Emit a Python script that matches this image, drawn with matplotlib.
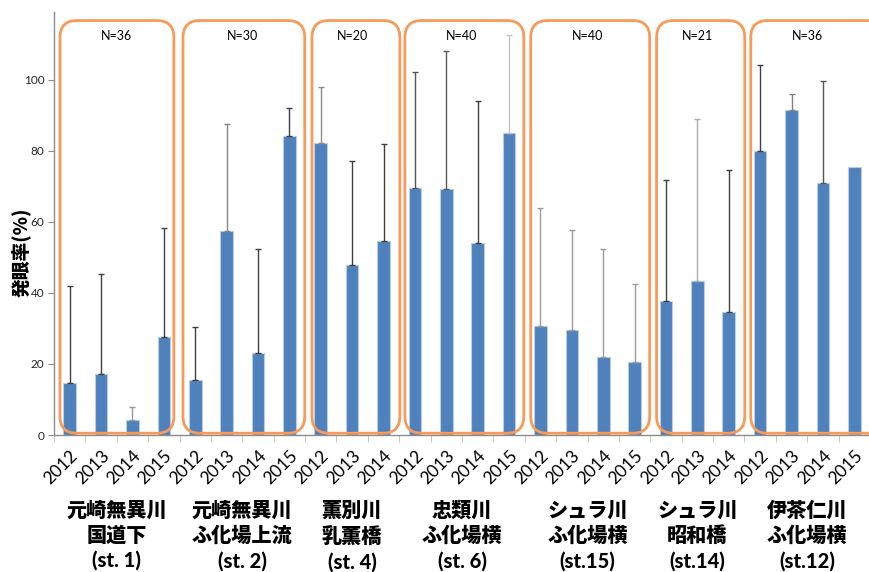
import numpy as np
import matplotlib
matplotlib.use("Agg")
import matplotlib.pyplot as plt
from matplotlib.patches import FancyBboxPatch

# ---- data -------------------------------------------------------------
stations = [
    "元崎無異川\n国道下\n(st. 1)",
    "元崎無異川\nふ化場上流\n(st. 2)",
    "薫別川\n乳薫橋\n(st. 4)",
    "忠類川\nふ化場横\n(st. 6)",
    "シュラ川\nふ化場横\n(st.15)",
    "シュラ川\n昭和橋\n(st.14)",
    "伊茶仁川\nふ化場横\n(st.12)",
]
sample_sizes = [36, 30, 20, 40, 40, 21, 36]
years = [
    ["2012", "2013", "2014", "2015"],
    ["2012", "2013", "2014", "2015"],
    ["2012", "2013", "2014"],
    ["2012", "2013", "2014", "2015"],
    ["2012", "2013", "2014", "2015"],
    ["2012", "2013", "2014"],
    ["2012", "2013", "2014", "2015"],
]
eyed_rate = [
    [14.7, 17.1, 4.1, 27.6],
    [15.6, 57.4, 23.2, 84.0],
    [82.2, 47.8, 54.7],
    [69.6, 69.3, 54.0, 85.1],
    [30.7, 29.5, 22.0, 20.6],
    [37.6, 43.3, 34.5],
    [79.9, 91.4, 71.0, 75.4],
]
eyed_rate_sd = [
    [27.1, 28.3, 3.7, 30.5],
    [14.8, 30.0, 29.2, 7.9],
    [15.8, 29.4, 27.2],
    [32.4, 38.8, 40.1, 27.5],
    [33.3, 28.2, 30.2, 21.8],
    [34.2, 45.7, 40.1],
    [24.3, 4.5, 28.6, np.nan],
]

# ---- styling ----------------------------------------------------------
BAR_COLOR = "#4F81BD"
BAR_EDGE = "#B8CCE4"
BOX_COLOR = "#F79A5A"
AXIS_GRAY = "#8C8C8C"
err_colors = [
    "#3F3F3F", "#3F3F3F", "#9A9A9A", "#3F3F3F",
    "#3F3F3F", "#858585", "#3F3F3F", "#3F3F3F",
    "#8A8A8A", "#3F3F3F", "#3F3F3F",
    "#555555", "#5A5A5A", "#3F3F3F", "#C4C4C4",
    "#9A9A9A", "#9A9A9A", "#9A9A9A", "#9A9A9A",
    "#3F3F3F", "#ABABAB", "#3F3F3F",
    "#3F3F3F", "#808080", "#555555", "#3F3F3F",
]
# rounded frames around each station, in data units (x from, x to)
box_spans = [(-0.31, 3.32), (3.61, 7.49), (7.72, 10.52), (10.68, 14.47),
             (14.69, 18.48), (18.70, 21.51), (21.70, 26.00)]
box_top, box_bottom = 116.6, 0.5

latin = ["Lato", "DejaVu Sans"]
cjk = ["Lato", "Noto Sans CJK JP", "DejaVu Sans"]

# ---- flatten ----------------------------------------------------------
year_labels = [y for g in years for y in g]
values = np.array([v for g in eyed_rate for v in g])
sds = np.array([v for g in eyed_rate_sd for v in g])
sizes = [len(g) for g in years]
starts = np.concatenate([[0], np.cumsum(sizes)[:-1]])
x = np.arange(len(values))

W, H = 870, 572
fig = plt.figure(figsize=(W / 100, H / 100), dpi=100)
ax = fig.add_axes([54 / W, 1 - 435 / H, 816 / W, 423 / H])
ax.set_xlim(-0.5, len(values) - 0.5)
ax.set_ylim(0, 119)

ax.bar(x, values, width=0.4, color=BAR_COLOR, edgecolor=BAR_EDGE,
       linewidth=0.8, zorder=2)
for xi, v, s, c in zip(x, values, sds, err_colors):
    if np.isnan(s):
        continue
    ax.errorbar(xi, v, yerr=[[0], [s]], fmt="none", ecolor=c,
                elinewidth=1.0, capsize=2.2, capthick=1.0, zorder=3)

# axes styling
for side in ("top", "right"):
    ax.spines[side].set_visible(False)
for side in ("left", "bottom"):
    ax.spines[side].set_color(AXIS_GRAY)
    ax.spines[side].set_linewidth(1.0)

ax.set_yticks(np.arange(0, 101, 20))
ax.tick_params(axis="y", direction="out", length=4, color=AXIS_GRAY,
               labelsize=8.5, labelcolor="#262626", pad=3)
for lab in ax.get_yticklabels():
    lab.set_family(latin)

ax.set_xticks(x)
ax.set_xticklabels(year_labels, rotation=45, ha="right",
                   rotation_mode="anchor", family=latin, fontsize=12.5,
                   color="black")
ax.set_xticks(np.arange(-0.5, len(values), 1.0), minor=True)
ax.tick_params(axis="x", which="major", length=0, pad=9)
ax.tick_params(axis="x", which="minor", length=5, color="#BFBFBF",
               direction="out")

# rounded station frames
fig.canvas.draw()
p0 = ax.transData.transform((0, 0))
px_per_x = ax.transData.transform((1, 0))[0] - p0[0]
px_per_y = ax.transData.transform((0, 1))[1] - p0[1]
aspect = px_per_x / px_per_y
radius = 17 / px_per_x
for (x0, x1), n, s0, k in zip(box_spans, sample_sizes, starts, sizes):
    box = FancyBboxPatch((x0, box_bottom), x1 - x0, box_top - box_bottom,
                         boxstyle=f"round,pad=0,rounding_size={radius}",
                         mutation_aspect=aspect, facecolor="none",
                         edgecolor=BOX_COLOR, linewidth=2.0, zorder=4,
                         clip_on=False)
    ax.add_patch(box)
    cx = s0 + (k - 1) / 2
    ax.text(cx, 112.3, f"N={n}", ha="center", va="center", fontsize=9,
            family=latin, color="black", zorder=5)

# station names under the year labels
for name, s0, k in zip(stations, starts, sizes):
    cx = s0 + (k - 1) / 2
    xf = ax.transData.transform((cx, 0))[0] / W
    fig.text(xf, 1 - 500 / H, name, ha="center", va="top", fontsize=14.5,
             fontweight="black", family=cjk, linespacing=1.36)

fig.text(21 / W, 1 - 252 / H, "発眼率(%)", rotation=90, ha="center",
         va="center", fontsize=13.5, fontweight="black",
         family=["Noto Sans CJK JP", "DejaVu Sans"])

fig.savefig("out.png", dpi=100)
